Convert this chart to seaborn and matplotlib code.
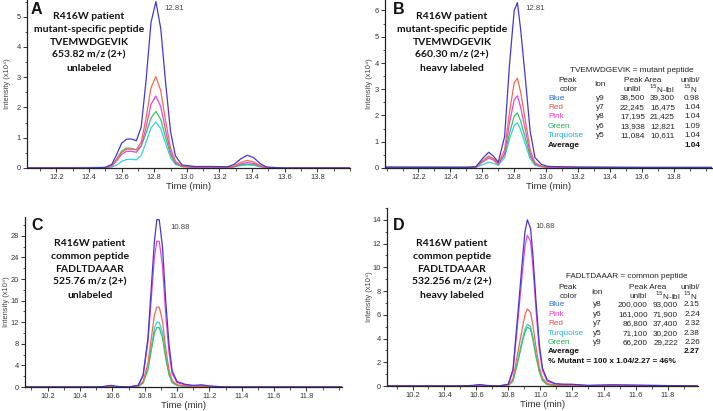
import numpy as np
import pandas as pd
import matplotlib
matplotlib.use("Agg")
import matplotlib.pyplot as plt
from matplotlib.ticker import MultipleLocator, FixedLocator
import seaborn as sns

# ---------------- data ----------------
series_names = ["Turquoise", "Green", "Pink", "Red", "Blue"]

tA = [12.02, 12.40, 12.50, 12.54, 12.57, 12.60, 12.63, 12.66, 12.69, 12.72, 12.75, 12.78, 12.81,
      12.84, 12.87, 12.90, 12.93, 12.97, 13.05, 13.15, 13.25, 13.29, 13.33, 13.37, 13.41, 13.45,
      13.49, 13.60, 14.00]
A_blue = [0, 0, 0.02, 0.12, 0.45, 0.82, 0.95, 0.96, 0.90, 1.35, 2.90, 4.80, 5.50, 4.60, 2.80, 1.20,
          0.40, 0.10, 0.05, 0.05, 0.04, 0.12, 0.30, 0.42, 0.34, 0.14, 0.03, 0, 0]
A_red = [0, 0, 0.01, 0.07, 0.28, 0.52, 0.62, 0.62, 0.60, 0.85, 1.65, 2.65, 3.02, 2.55, 1.55, 0.66,
         0.22, 0.06, 0.03, 0.03, 0.02, 0.07, 0.18, 0.25, 0.20, 0.08, 0.02, 0, 0]
A_pink = [0, 0, 0.01, 0.06, 0.24, 0.45, 0.55, 0.55, 0.52, 0.72, 1.35, 2.10, 2.38, 2.02, 1.24, 0.53,
          0.18, 0.05, 0.03, 0.03, 0.02, 0.05, 0.13, 0.18, 0.15, 0.06, 0.01, 0, 0]
A_green = [0, 0, 0.01, 0.07, 0.30, 0.56, 0.66, 0.65, 0.60, 0.72, 1.15, 1.65, 1.87, 1.60, 1.00, 0.44,
           0.15, 0.05, 0.03, 0.03, 0.02, 0.04, 0.10, 0.13, 0.11, 0.05, 0.01, 0, 0]
A_cyan = [0, 0.02, 0.02, 0.03, 0.10, 0.22, 0.28, 0.29, 0.27, 0.42, 0.85, 1.32, 1.52, 1.30, 0.80, 0.34,
          0.12, 0.05, 0.04, 0.04, 0.03, 0.04, 0.08, 0.10, 0.09, 0.04, 0.01, 0, 0]

tB = [11.99, 12.50, 12.56, 12.60, 12.64, 12.67, 12.70, 12.74, 12.77, 12.80, 12.82, 12.84, 12.87,
      12.90, 12.93, 12.97, 13.01, 13.20, 13.60, 14.04]
B_blue = [0.03, 0.02, 0.05, 0.35, 0.60, 0.45, 0.22, 1.20, 3.90, 6.00, 6.30, 5.30, 3.40, 1.40, 0.40,
          0.14, 0.06, 0.03, 0.02, 0.02]
B_red = [0.02, 0.02, 0.04, 0.25, 0.45, 0.35, 0.15, 0.70, 2.10, 3.25, 3.42, 2.90, 1.80, 0.70, 0.20,
         0.07, 0.04, 0.02, 0.02, 0.02]
B_pink = [0.02, 0.02, 0.03, 0.22, 0.38, 0.30, 0.13, 0.55, 1.70, 2.60, 2.75, 2.32, 1.45, 0.55, 0.16,
          0.06, 0.03, 0.02, 0.01, 0.01]
B_green = [0.03, 0.03, 0.04, 0.25, 0.45, 0.35, 0.18, 0.50, 1.30, 1.98, 2.10, 1.80, 1.12, 0.45, 0.14,
           0.06, 0.04, 0.03, 0.02, 0.02]
B_cyan = [0.03, 0.03, 0.03, 0.12, 0.22, 0.18, 0.10, 0.40, 1.10, 1.62, 1.72, 1.46, 0.90, 0.35, 0.10,
          0.05, 0.03, 0.03, 0.02, 0.02]

tC = [10.06, 10.50, 10.55, 10.59, 10.63, 10.70, 10.76, 10.79, 10.82, 10.84, 10.86, 10.875, 10.89,
      10.91, 10.93, 10.95, 10.97, 11.00, 11.05, 11.10, 11.15, 11.20, 11.30, 12.02]
C_blue = [0, 0, 0.1, 0.3, 0.1, 0, 0.3, 2.2, 9.0, 18.0, 27.0, 31.0, 31.0, 26.0, 16.0, 8.0, 3.0, 1.0,
          0.5, 0.3, 0.4, 0.2, 0, 0]
C_pink = [0, 0, 0.05, 0.15, 0.05, 0, 0.3, 2.0, 8.3, 16.0, 24.0, 27.0, 27.0, 22.5, 13.5, 6.5, 2.5,
          0.8, 0.4, 0.2, 0.3, 0.1, 0, 0]
C_red = [0, 0, 0.05, 0.15, 0.05, 0, 0.15, 1.0, 4.4, 8.8, 13.3, 14.8, 14.8, 12.2, 7.2, 3.3, 1.2, 0.4,
         0.2, 0.1, 0.15, 0.05, 0, 0]
C_cyan = [0, 0, 0.1, 0.25, 0.1, 0, 0.1, 0.8, 3.5, 7.2, 10.9, 12.0, 12.0, 10.0, 5.8, 2.6, 0.9, 0.3,
          0.15, 0.1, 0.1, 0.05, 0, 0]
C_green = [0, 0, 0.05, 0.15, 0.05, 0, 0.1, 0.7, 3.2, 6.6, 10.0, 11.0, 11.0, 9.1, 5.3, 2.3, 0.8, 0.3,
           0.15, 0.1, 0.1, 0.05, 0, 0]

tD = [10.04, 10.50, 10.58, 10.62, 10.66, 10.74, 10.80, 10.83, 10.86, 10.885, 10.905, 10.92, 10.94,
      10.955, 10.975, 10.995, 11.015, 11.045, 11.095, 11.145, 11.195, 11.30, 11.45, 11.99]
D_blue = [0, 0, 0.05, 0.12, 0.05, 0, 0.15, 1.4, 6.0, 10.0, 13.0, 14.0, 13.3, 11.0, 7.0, 3.5, 1.5,
          0.5, 0.2, 0.15, 0.15, 0.05, 0.1, 0]
D_pink = [0, 0, 0.04, 0.1, 0.04, 0, 0.12, 1.2, 5.4, 9.0, 11.8, 12.7, 12.2, 10.0, 6.3, 3.1, 1.3, 0.4,
          0.18, 0.12, 0.12, 0.04, 0.08, 0]
D_red = [0, 0, 0.02, 0.05, 0.02, 0, 0.06, 0.6, 2.8, 4.6, 6.0, 6.5, 6.2, 5.1, 3.2, 1.6, 0.65, 0.2,
         0.08, 0.06, 0.06, 0.02, 0.04, 0]
D_cyan = [0, 0, 0.02, 0.05, 0.02, 0, 0.05, 0.45, 2.2, 3.7, 4.8, 5.2, 5.0, 4.1, 2.6, 1.3, 0.5, 0.15,
          0.06, 0.05, 0.05, 0.02, 0.03, 0]
D_green = [0, 0, 0.02, 0.05, 0.02, 0, 0.05, 0.4, 2.0, 3.5, 4.55, 4.95, 4.8, 3.9, 2.4, 1.2, 0.45,
           0.12, 0.05, 0.04, 0.04, 0.02, 0.03, 0]

# x tick labels
xticks_AB = [12.2, 12.4, 12.6, 12.8, 13.0, 13.2, 13.4, 13.6, 13.8]
xticks_CD = [10.2, 10.4, 10.6, 10.8, 11.0, 11.2, 11.4, 11.6, 11.8]

titles = {
    "A": ["R416W patient", "mutant-specific peptide", "TVEMWDGEVIK", "653.82 m/z (2+)", "unlabeled"],
    "B": ["R416W patient", "mutant-specific peptide", "TVEMWDGEVIK", "660.30 m/z (2+)",
          "heavy labeled"],
    "C": ["R416W patient", "common peptide", "FADLTDAAAR", "525.76 m/z (2+)", "unlabeled"],
    "D": ["R416W patient", "common peptide", "FADLTDAAAR", "532.256 m/z (2+)", "heavy labeled"],
}
peak_labels = {"A": "12.81", "B": "12.81", "C": "10.88", "D": "10.88"}
ylabel_text = "Intensity (x10\u2074)"

# table B
tabB_title = "TVEMWDGEVIK = mutant peptide"
tabB_colors = ["Blue", "Red", "Pink", "Green", "Turquoise"]
tabB_ions = ["y9", "y7", "y8", "y6", "y5"]
tabB_unlbl = ["38,500", "22,245", "17,195", "13,938", "11,084"]
tabB_lbl = ["39,300", "16,475", "21,425", "12,821", "10,611"]
tabB_ratio = ["0.98", "1.04", "1.04", "1.09", "1.04"]
tabB_avg = "1.04"

# table D
tabD_title = "FADLTDAAAR = common peptide"
tabD_colors = ["Blue", "Pink", "Red", "Turquoise", "Green"]
tabD_ions = ["y8", "y6", "y7", "y5", "y9"]
tabD_unlbl = ["200,000", "161,000", "86,800", "71,100", "66,200"]
tabD_lbl = ["93,000", "71,900", "37,400", "30,200", "29,222"]
tabD_ratio = ["2.15", "2.24", "2.32", "2.38", "2.26"]
tabD_avg = "2.27"
tabD_note = "% Mutant = 100 x 1.04/2.27 = 46%"

# ---------------- style ----------------
line_colors = {"Blue": "#4636d2", "Red": "#f46a4e", "Pink": "#e247dc",
               "Green": "#35c463", "Turquoise": "#38d2dc"}
text_colors = {"Blue": "#2f6fd3", "Red": "#ef4b4b", "Pink": "#f03fc8",
               "Green": "#21b356", "Turquoise": "#22b0e4"}

sns.set_theme(style="ticks")
plt.rcParams["font.family"] = ["Liberation Sans", "DejaVu Sans"]

W, H = 713, 411
fig = plt.figure(figsize=(W / 100, H / 100), dpi=100)


def add_ax(l, t, r, b):
    return fig.add_axes([l / W, 1 - b / H, (r - l) / W, (b - t) / H])


def fpos(x, y):
    return x / W, 1 - y / H


def make_df(t, blue, red, pink, green, cyan):
    vals = {"Blue": blue, "Red": red, "Pink": pink, "Green": green, "Turquoise": cyan}
    rows = []
    for name in series_names:
        for ti, v in zip(t, vals[name]):
            rows.append((name, ti, v))
    return pd.DataFrame(rows, columns=["ion", "time", "intensity"])


panels = [
    ("A", (27, 0, 350, 168), make_df(tA, A_blue, A_red, A_pink, A_green, A_cyan),
     (12.02, 14.0), (0, 5.55), xticks_AB, 1, 0.5, 11),
    ("B", (385, 0, 712, 168), make_df(tB, B_blue, B_red, B_pink, B_green, B_cyan),
     (11.99, 14.04), (0, 6.4), xticks_AB, 1, 0.5, 373),
    ("C", (25, 217, 342, 387), make_df(tC, C_blue, C_red, C_pink, C_green, C_cyan),
     (10.06, 12.02), (0, 31.5), xticks_CD, 4, 2, 10.5),
    ("D", (387, 208, 698, 386), make_df(tD, D_blue, D_red, D_pink, D_green, D_cyan),
     (10.04, 11.99), (0, 15.0), xticks_CD, 2, 1, 373),
]

axes = {}
for key, box, df, xl, yl, xt, ymaj, ymin, ylab_x in panels:
    ax = add_ax(*box)
    sns.lineplot(data=df, x="time", y="intensity", hue="ion", hue_order=series_names,
                 palette=line_colors, estimator=None, sort=False, legend=False,
                 linewidth=0.9, ax=ax)
    ax.set_xlim(*xl)
    ax.set_ylim(*yl)
    ax.xaxis.set_major_locator(FixedLocator(xt))
    ax.xaxis.set_minor_locator(MultipleLocator(0.1))
    ax.set_xticklabels([f"{v:.1f}" for v in xt])
    ax.yaxis.set_major_locator(MultipleLocator(ymaj))
    ax.yaxis.set_minor_locator(MultipleLocator(ymin))
    ax.set_facecolor("white")
    for s in ["top", "right"]:
        ax.spines[s].set_visible(False)
    for s in ["left", "bottom"]:
        ax.spines[s].set_color("#222222")
        ax.spines[s].set_linewidth(0.9)
    ax.tick_params(axis="both", which="major", direction="out", length=3, width=0.7,
                   color="#333333", labelsize=5.4, labelcolor="#333333", pad=1.2)
    ax.tick_params(axis="both", which="minor", direction="out", length=1.8, width=0.6,
                   color="#333333")
    ax.set_xlabel("Time (min)", fontsize=6.8, color="#333333", labelpad=1)
    ax.set_ylabel(ylabel_text, fontsize=5.4, color="#444444")
    ax.yaxis.set_label_coords((ylab_x - box[0]) / (box[2] - box[0]), 0.5)
    axes[key] = ax

fig.patch.set_facecolor("white")

# panel letters
letter_pos = {"A": (31, 9), "B": (393, 9), "C": (31, 225), "D": (393, 225)}
for k, (x, y) in letter_pos.items():
    fig.text(*fpos(x, y), k, fontsize=11.5, fontweight="bold", ha="left", va="center",
             color="#111111")

# titles (one text per line)
title_pos = {"A": (89, 19), "B": (452, 19), "C": (90, 246), "D": (452, 246)}
for k, (x, y) in title_pos.items():
    for i, line in enumerate(titles[k]):
        fig.text(*fpos(x, y + 12.9 * i), line, fontsize=7.5, fontweight="bold",
                 ha="center", va="baseline", color="#111111", family=["Lato", "DejaVu Sans"])

# peak labels
peak_pos = {"A": (164, 8), "B": (525, 8), "C": (170, 227), "D": (535, 226)}
for k, (x, y) in peak_pos.items():
    fig.text(*fpos(x, y), peak_labels[k], fontsize=5.6, ha="left", va="center",
             color="#444444")

TS = 5.9


def draw_table(top, title, colors, ions, unlbl, lbl, ratio, avg, note=None,
               title_x=632, ion_x=600, unlbl_r=645, lbl_r=675, pa_x=643, ulab_x=632,
               nlab_x=662):
    fig.text(*fpos(title_x, top), title, fontsize=TS, ha="center", va="center", color="#222222")
    fig.text(*fpos(568, top + 10), "Peak", fontsize=TS, ha="center", va="center", color="#222222")
    fig.text(*fpos(568, top + 19), "color", fontsize=TS, ha="center", va="center", color="#222222")
    fig.text(*fpos(ion_x, top + 15), "Ion", fontsize=TS, ha="center", va="center", color="#222222")
    fig.text(*fpos(pa_x, top + 10), "Peak Area", fontsize=TS, ha="center", va="center",
             color="#222222")
    fig.text(*fpos(ulab_x, top + 19.5), "unlbl", fontsize=TS, ha="center", va="center",
             color="#222222")
    fig.text(*fpos(nlab_x, top + 19), "$^{15}$N-lbl", fontsize=TS, ha="center", va="center",
             color="#222222")
    fig.text(*fpos(700, top + 10), "unlbl/", fontsize=TS, ha="right", va="center",
             color="#222222")
    fig.text(*fpos(683, top + 19), "$^{15}$N", fontsize=TS, ha="left", va="center",
             color="#222222")
    y = top + 28
    for c, i, u, l, r in zip(colors, ions, unlbl, lbl, ratio):
        fig.text(*fpos(548, y), c, fontsize=TS, ha="left", va="center", color=text_colors[c])
        fig.text(*fpos(ion_x, y), i, fontsize=TS, ha="center", va="center", color="#222222")
        fig.text(*fpos(unlbl_r, y), u, fontsize=TS, ha="right", va="center", color="#222222")
        fig.text(*fpos(lbl_r, y), l, fontsize=TS, ha="right", va="center", color="#222222")
        fig.text(*fpos(700, y), r, fontsize=TS, ha="right", va="center", color="#222222")
        y += 9.4
    fig.text(*fpos(548, y), "Average", fontsize=TS, ha="left", va="center",
             fontweight="bold", color="#111111")
    fig.text(*fpos(700, y), avg, fontsize=TS, ha="right", va="center",
             fontweight="bold", color="#111111")
    if note:
        y += 9.6
        fig.text(*fpos(548, y), note, fontsize=TS, ha="left", va="center",
                 fontweight="bold", color="#111111")


draw_table(70, tabB_title, tabB_colors, tabB_ions, tabB_unlbl, tabB_lbl, tabB_ratio, tabB_avg)
draw_table(277, tabD_title, tabD_colors, tabD_ions, tabD_unlbl, tabD_lbl, tabD_ratio, tabD_avg,
           note=tabD_note, title_x=627, ion_x=597, unlbl_r=648, lbl_r=678, pa_x=648,
           ulab_x=638, nlab_x=668)

fig.savefig("out.png", dpi=100, facecolor="white")
